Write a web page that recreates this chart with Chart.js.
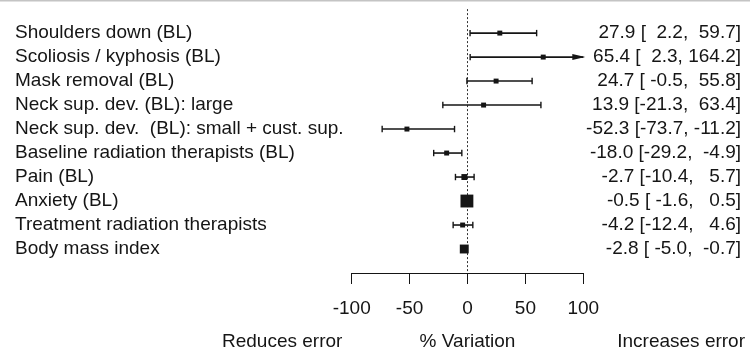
<!DOCTYPE html>
<html>
<head>
<meta charset="utf-8">
<script src="https://cdn.jsdelivr.net/npm/chart.js@4.4.1/dist/chart.umd.min.js"></script>
<style>
  html, body { margin: 0; padding: 0; background: #fff; }
  #forest { display: block; }
</style>
</head>
<body>
<canvas id="forest" width="750" height="352"></canvas>
<script>
const labels = [
    'Shoulders down (BL)',
    'Scoliosis / kyphosis (BL)',
    'Mask removal (BL)',
    'Neck sup. dev. (BL): large',
    'Neck sup. dev.  (BL): small + cust. sup.',
    'Baseline radiation therapists (BL)',
    'Pain (BL)',
    'Anxiety (BL)',
    'Treatment radiation therapists',
    'Body mass index'
];
const estimate = [27.9, 65.4, 24.7, 13.9, -52.3, -18.0, -2.7, -0.5, -4.2, -2.8];
const lower = [2.2, 2.3, -0.5, -21.3, -73.7, -29.2, -10.4, -1.6, -12.4, -5.0];
const upper = [59.7, 164.2, 55.8, 63.4, -11.2, -4.9, 5.7, 0.5, 4.6, -0.7];
// relative box weight of each estimate
const weight = [1, 1, 1, 1, 1, 1, 1.2, 2.6, 1, 1.8];
const xTicks = [-100, -50, 0, 50, 100];
const xTitle = '% Variation';
const leftNote = 'Reduces error';
const rightNote = 'Increases error';

const xMin = -100, xMax = 100;
const ink = '#151515';
const family = '"Liberation Sans", Arial, Helvetica, sans-serif';
const fontSize = 19;

const fmt = v => v.toFixed(1).padStart(5, ' ');
const ciText = i => `${fmt(estimate[i])} [${fmt(lower[i])}, ${fmt(upper[i])}]`;

const ciSets = labels.map((_, i) => {
    const clipped = upper[i] > xMax;
    return {
        type: 'scatter',
        showLine: true,
        data: [{x: lower[i], y: i + 1}, {x: clipped ? xMax : upper[i], y: i + 1}],
        borderColor: ink,
        borderWidth: 1.6,
        pointStyle: 'line',
        rotation: 90,
        pointRadius: [3.2, clipped ? 0 : 3.2],
        pointBorderWidth: 1.4,
        pointBorderColor: ink,
        clip: false,
        order: 2
    };
});

const boxSet = {
    type: 'scatter',
    data: estimate.map((v, i) => ({x: v, y: i + 1})),
    pointStyle: 'rect',
    pointRadius: weight.map(w => 3.5 * w),
    backgroundColor: ink,
    pointBorderWidth: 0,
    clip: false,
    order: 1
};

const zeroSet = {
    type: 'scatter',
    showLine: true,
    data: [{x: 0, y: 0}, {x: 0, y: labels.length + 1}],
    borderColor: '#333',
    borderWidth: 1,
    borderDash: [2, 2],
    pointRadius: 0,
    order: 3
};

const forestText = {
    id: 'forestText',
    afterDatasetsDraw(chart) {
        const {ctx, scales: {x, y}} = chart;
        ctx.save();
        ctx.fillStyle = ink;
        upper.forEach((hi, i) => {
            if (hi <= xMax) return;
            const py = y.getPixelForValue(i + 1);
            const tip = x.right + 2;
            ctx.beginPath();
            ctx.moveTo(tip, py);
            ctx.lineTo(tip - 13, py - 3);
            ctx.lineTo(tip - 13, py + 3);
            ctx.closePath();
            ctx.fill();
        });
        ctx.restore();
    },
    afterDraw(chart) {
        const {ctx, scales: {x, y}} = chart;
        ctx.save();
        ctx.fillStyle = '#c4c4c4';
        ctx.fillRect(0, 0, chart.width, 1.5);

        ctx.fillStyle = ink;
        ctx.font = `${fontSize}px ${family}`;
        ctx.textBaseline = 'middle';
        labels.forEach((lab, i) => {
            const py = y.getPixelForValue(i + 1);
            ctx.textAlign = 'left';
            ctx.fillText(lab, 15, py);
            ctx.textAlign = 'right';
            ctx.fillText(ciText(i), 741, py);
        });

        const by = 342;
        ctx.textAlign = 'left';
        ctx.fillText(leftNote, 222, by);
        ctx.textAlign = 'center';
        ctx.fillText(xTitle, x.getPixelForValue(0), by);
        ctx.textAlign = 'right';
        ctx.fillText(rightNote, 745, by);
        ctx.restore();
    }
};

new Chart(document.getElementById('forest'), {
    type: 'scatter',
    data: {datasets: [zeroSet, ...ciSets, boxSet]},
    options: {
        responsive: false,
        animation: false,
        events: [],
        layout: {padding: {left: 351.7, right: 166.7, top: 0, bottom: 0}},
        plugins: {legend: {display: false}, tooltip: {enabled: false}},
        scales: {
            x: {
                type: 'linear',
                min: xMin,
                max: xMax,
                afterBuildTicks: s => { s.ticks = xTicks.map(v => ({value: v})); },
                afterFit: s => { s.height = 79; },
                border: {display: true, color: ink, width: 1},
                grid: {drawOnChartArea: false, drawTicks: true, tickLength: 11, tickColor: ink, tickWidth: 1},
                ticks: {color: ink, font: {family: family, size: fontSize}, padding: 13, maxRotation: 0, autoSkip: false}
            },
            y: {
                type: 'linear',
                display: false,
                reverse: true,
                min: 0,
                max: labels.length + 1
            }
        }
    },
    plugins: [forestText]
});
</script>
</body>
</html>
